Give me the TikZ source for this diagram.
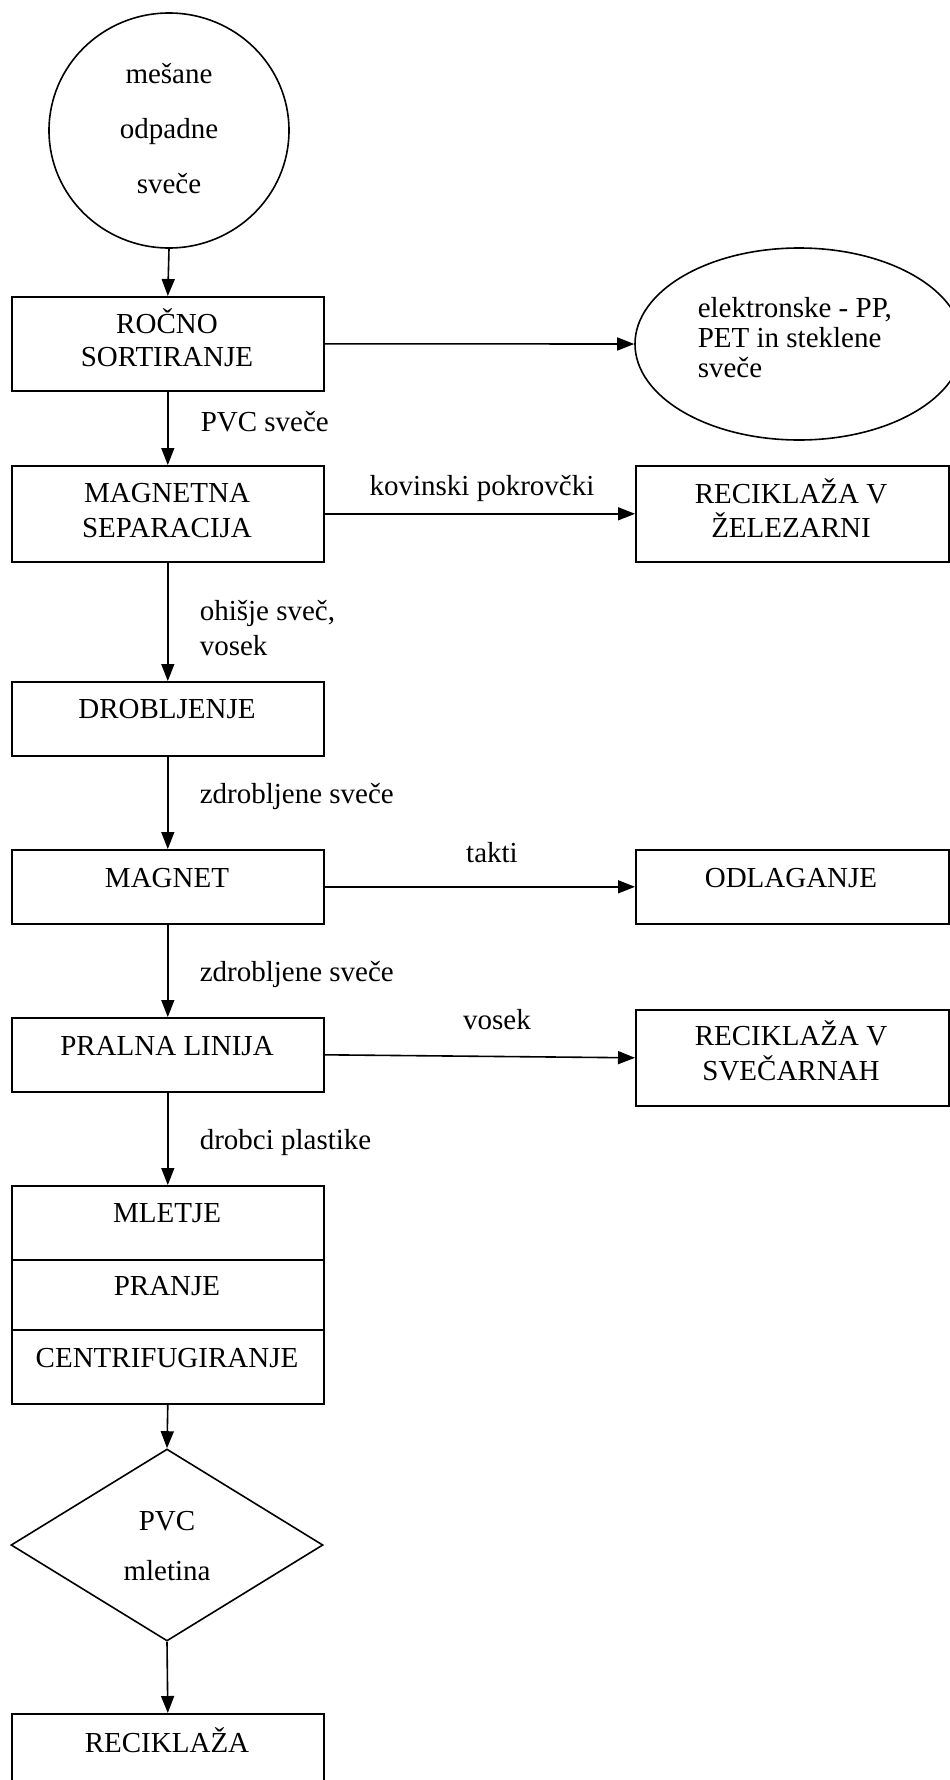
\documentclass[tikz,border=0pt]{standalone}
\usepackage{fontspec}
\setmainfont{Liberation Serif}
\usetikzlibrary{arrows.meta,shapes.geometric}
\begin{document}
\begin{tikzpicture}[x=1pt,y=-1pt,
  line width=1.6pt,
  every node/.style={inner sep=0pt, font=\fontsize{29}{34}\selectfont},
  box/.style={draw, anchor=north west, minimum width=312pt},
  txt/.style={anchor=base},
  ltxt/.style={anchor=base west},
  arr/.style={-{Triangle[length=17pt,width=13pt]}}
]
\useasboundingbox (0,0) rectangle (950,1780);
\clip (0,0) rectangle (950,1780);

% shapes
\node[ellipse, draw, minimum width=240pt, minimum height=235pt] (src) at (169,130.5) {};
\node[box, minimum height=94pt] (rocno) at (11,296) {};
\node[ellipse, draw, minimum width=328pt, minimum height=192pt] (elek) at (799,344) {};
\node[box, minimum height=96pt] (magsep) at (11,465) {};
\node[box, minimum width=313pt, minimum height=96pt] (zel) at (635,465) {};
\node[box, minimum height=74pt] (drob) at (11,681) {};
\node[box, minimum height=74pt] (magnet) at (11,849) {};
\node[box, minimum width=313pt, minimum height=74pt] (odl) at (635,849) {};
\node[box, minimum height=74pt] (pralna) at (11,1017) {};
\node[box, minimum width=313pt, minimum height=96pt] (svec) at (635,1009) {};
\node[box, minimum height=74pt] (mletje) at (11,1185) {};
\node[box, minimum height=70pt] (pranje) at (11,1259) {};
\node[box, minimum height=74pt] (centr) at (11,1329) {};
\node[diamond, draw, minimum width=312pt, minimum height=192pt] (pvc) at (167,1545) {};
\node[box, minimum height=74pt] (rec) at (11,1713) {};

% texts in shapes
\node[txt] (s1) at (169,83) {mešane};
\node[txt] (s2) at (169,138) {odpadne};
\node[txt] (s3) at (169,193) {sveče};
\node[txt] (r1) at (167,333) {ROČNO};
\node[txt] (r2) at (167,366) {SORTIRANJE};
\node[ltxt] (e1) at (697,317) {elektronske - PP,};
\node[ltxt] (e2) at (697,347) {PET in steklene};
\node[ltxt] (e3) at (697,377) {sveče};
\node[txt] (m1) at (167,502) {MAGNETNA};
\node[txt] (m2) at (167,537) {SEPARACIJA};
\node[txt] (z1) at (791,503) {RECIKLAŽA V};
\node[txt] (z2) at (791,537) {ŽELEZARNI};
\node[txt] (d1) at (167,718) {DROBLJENJE};
\node[txt] (g1) at (167,887) {MAGNET};
\node[txt] (o1) at (791,887) {ODLAGANJE};
\node[txt] (p1) at (167,1055) {PRALNA LINIJA};
\node[txt] (v1) at (791,1045) {RECIKLAŽA V};
\node[txt] (v2) at (791,1080) {SVEČARNAH};
\node[txt] (ml) at (167,1222) {MLETJE};
\node[txt] (pr) at (167,1295) {PRANJE};
\node[txt] (ce) at (167,1367) {CENTRIFUGIRANJE};
\node[txt] (pv1) at (167,1530) {PVC};
\node[txt] (pv2) at (167,1580) {mletina};
\node[txt] (rc) at (167,1752) {RECIKLAŽA};

% connector labels
\node[ltxt] (l1) at (200,431) {PVC sveče};
\node[txt] (l2) at (482,495) {kovinski pokrovčki};
\node[ltxt] (l3) at (199,620) {ohišje sveč,};
\node[ltxt] (l4) at (199,655) {vosek};
\node[ltxt] (l5) at (199,803) {zdrobljene sveče};
\node[txt] (l6) at (492,862) {takti};
\node[ltxt] (l7) at (199,981) {zdrobljene sveče};
\node[txt] (l8) at (497,1029) {vosek};
\node[ltxt] (l9) at (199,1149) {drobci plastike};

% connectors
\draw[arr] (src.south) -- (rocno.north);
\draw[arr] (rocno.east) -- (elek.west);
\draw[arr] (rocno.south) -- (magsep.north);
\draw[arr] (magsep.east) -- (zel.west);
\draw[arr] (magsep.south) -- (drob.north);
\draw[arr] (drob.south) -- (magnet.north);
\draw[arr] (magnet.east) -- (odl.west);
\draw[arr] (magnet.south) -- (pralna.north);
\draw[arr] (pralna.east) -- (svec.west);
\draw[arr] (pralna.south) -- (mletje.north);
\draw[arr] (centr.south) -- (pvc.north);
\draw[arr] (pvc.south) -- (rec.north);
\end{tikzpicture}
\end{document}
